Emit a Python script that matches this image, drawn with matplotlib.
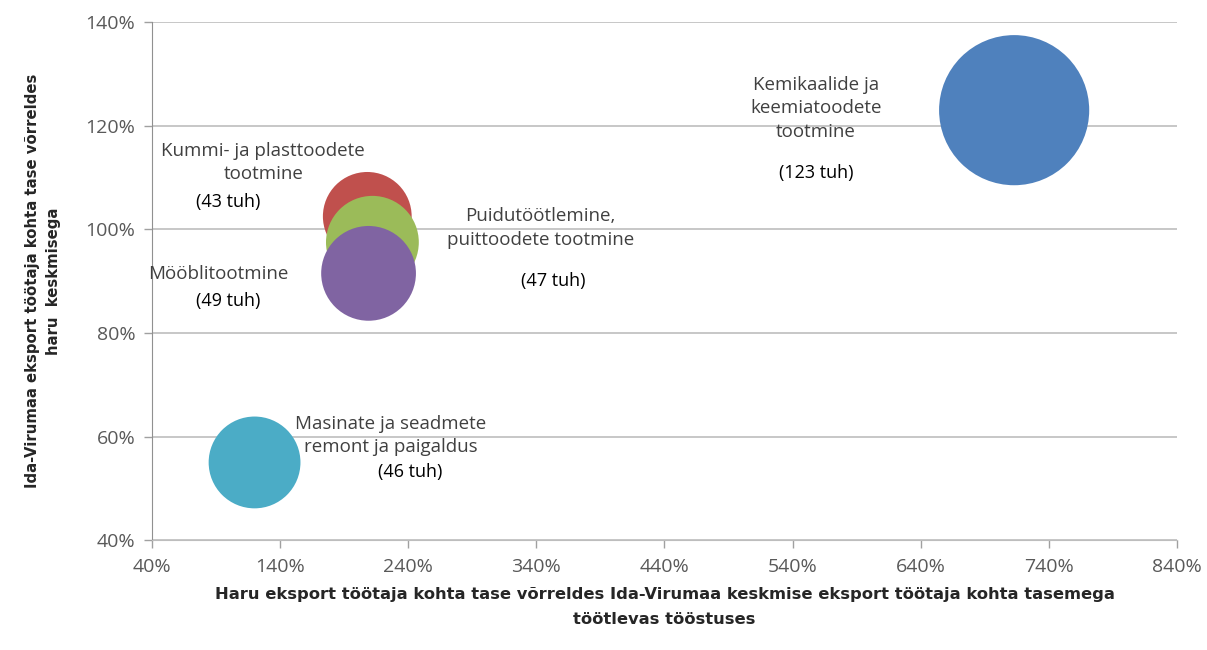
import matplotlib.pyplot as plt
from matplotlib.ticker import PercentFormatter

plt.rcParams['font.family'] = ['Open Sans', 'DejaVu Sans']

# data: x = export per worker vs county average (%), y = county vs branch average (%)
names = ['Kummi- ja plasttoodete\ntootmine',
         'Puidutöötlemine,\npuittoodete tootmine',
         'Mööblitootmine',
         'Masinate ja seadmete\nremont ja paigaldus',
         'Kemikaalide ja\nkeemiatoodete\ntootmine']
x_vals = [208, 212, 209, 120, 713]
y_vals = [102.5, 97.5, 91.5, 55, 123]
sizes_tuh = [43, 47, 49, 46, 123]
colors = ['#C0504D', '#9BBB59', '#8064A2', '#4BACC6', '#4F81BD']

# label offsets in pixels from bubble centre (name, count)
name_off = [(-104, 54), (168, 14), (-150, -1), (136, 27), (-198, 2)]
count_off = [(-139, 14), (181, -39), (-140, -28), (156, -10), (-198, -63)]

fig = plt.figure(figsize=(12.07, 6.5), dpi=100)
ax = fig.add_axes([0.126, 0.169, 0.849, 0.797])

for i in range(len(names)):
    ax.scatter(x_vals[i], y_vals[i], s=sizes_tuh[i] * 95, color=colors[i],
               edgecolors='none', zorder=3 + i)

for i in range(len(names)):
    ax.annotate(names[i], (x_vals[i], y_vals[i]), xytext=name_off[i],
                textcoords='offset pixels', ha='center', va='center',
                fontsize=13.5, color='#404040', linespacing=1.4, zorder=10)
    ax.annotate('(%d tuh)' % sizes_tuh[i], (x_vals[i], y_vals[i]),
                xytext=count_off[i], textcoords='offset pixels',
                ha='center', va='center', fontsize=13, color='black', zorder=10)

ax.set_xlim(40, 840)
ax.set_ylim(40, 140)
ax.set_xticks(range(40, 841, 100))
ax.set_yticks(range(40, 141, 20))
ax.xaxis.set_major_formatter(PercentFormatter(decimals=0))
ax.yaxis.set_major_formatter(PercentFormatter(decimals=0))
ax.tick_params(labelsize=14, labelcolor='#595959', length=6, width=1,
               color='#A0A0A0')
ax.tick_params(axis='y', pad=6)
ax.tick_params(axis='x', pad=7)

ax.grid(axis='y', color='#BDBDBD', linewidth=1.2)
ax.set_axisbelow(True)
for s in ['top', 'right']:
    ax.spines[s].set_visible(False)
ax.spines['left'].set_color('#909090')
ax.spines['bottom'].set_color('#BDBDBD')

ax.set_xlabel('Haru eksport töötaja kohta tase võrreldes Ida-Virumaa keskmise eksport töötaja kohta tasemega\ntöötlevas tööstuses',
              fontsize=11.8, fontweight='bold', color='#262626', labelpad=8, linespacing=1.8,
              family='DejaVu Sans')
ax.set_ylabel('Ida-Virumaa eksport töötaja kohta tase võrreldes\nharu  keskmisega',
              fontsize=10.7, fontweight='bold', color='#262626', labelpad=18, linespacing=1.5,
              family='DejaVu Sans')

fig.savefig('out.png', dpi=100)
